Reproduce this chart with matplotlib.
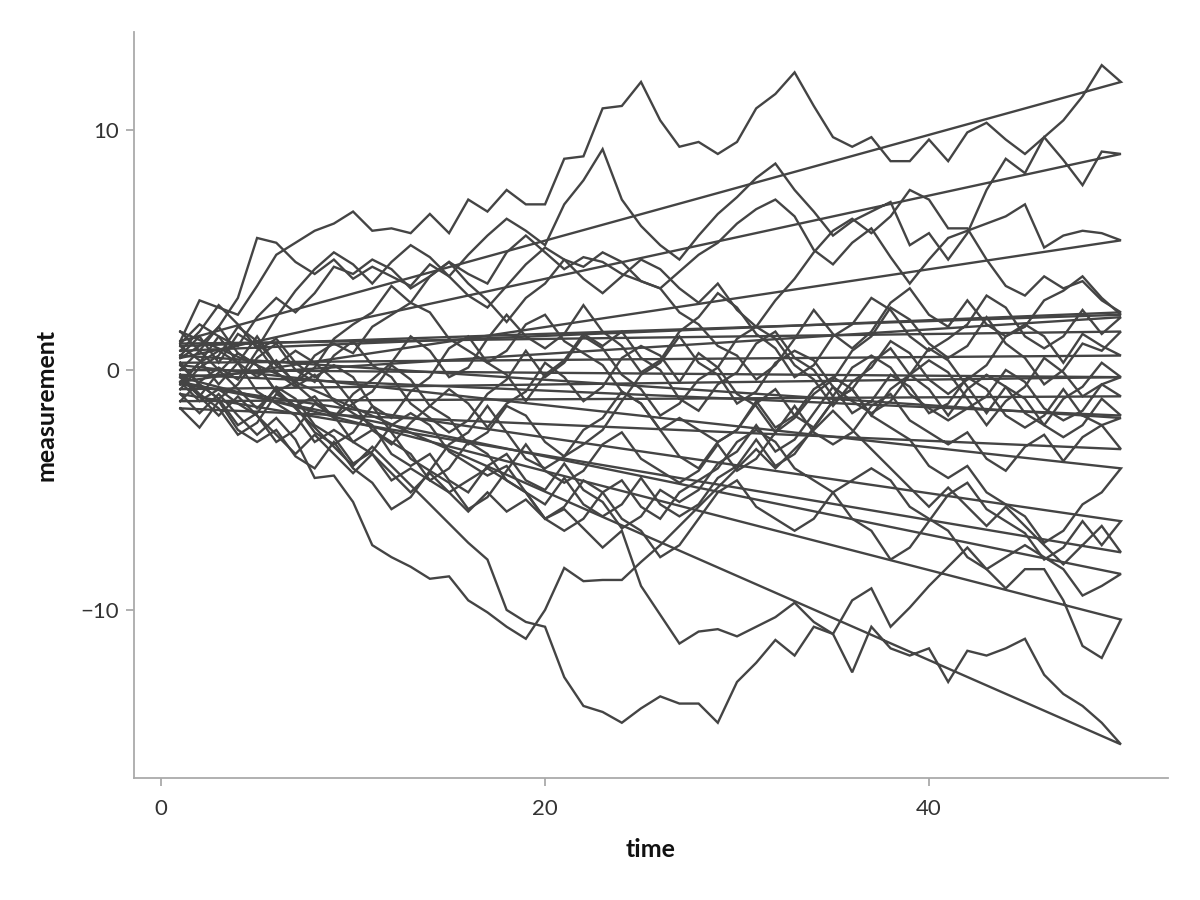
import numpy as np
import matplotlib.pyplot as plt

plt.rcParams['font.family'] = ['Lato', 'DejaVu Sans']

time = np.arange(1, 51)

# one random walk per run (t = 1..50)
s01 = [1.2, 2.9, 2.6, 2.3, 3.5, 4.8, 5.3, 5.8, 6.1, 6.6, 5.8, 5.9, 5.7, 6.5, 5.7, 7.1, 6.6, 7.5, 6.9, 6.9,
       8.8, 8.9, 10.9, 11.0, 12.0, 10.4, 9.3, 9.5, 9.0, 9.5, 10.9, 11.5, 12.4, 11.0, 9.7, 9.3, 9.7, 8.7, 8.7, 9.6,
       8.7, 9.9, 10.3, 9.6, 9.0, 9.7, 10.4, 11.4, 12.7, 12.0]
s02 = [0.5, 1.0, 1.8, 3.0, 5.5, 5.3, 4.5, 4.0, 4.6, 3.8, 4.3, 3.9, 3.5, 4.4, 3.9, 4.8, 5.6, 6.3, 5.8, 5.2,
       6.9, 7.9, 9.2, 7.1, 6.0, 5.2, 4.6, 5.6, 6.5, 7.2, 8.0, 8.6, 7.5, 6.6, 5.6, 6.2, 6.6, 7.0, 5.2, 5.7,
       4.6, 5.7, 7.5, 8.8, 8.2, 9.7, 8.75, 7.7, 9.1, 9.0]
s03 = [-0.5, 0.3, 1.4, 1.0, 2.2, 3.0, 2.4, 3.2, 4.3, 4.0, 4.6, 4.2, 3.4, 3.9, 4.5, 4.0, 3.6, 4.9, 5.6, 4.9,
       4.2, 4.7, 4.5, 4.0, 3.7, 3.4, 4.1, 4.8, 5.3, 6.1, 6.7, 7.1, 6.4, 5.0, 4.4, 5.3, 5.9, 4.7, 3.6, 4.6,
       5.5, 5.8, 6.1, 6.4, 6.9, 5.1, 5.6, 5.8, 5.7, 5.4]
s04 = [0.8, 1.6, 2.7, 1.9, 0.9, 2.2, 3.3, 4.2, 4.9, 4.4, 3.6, 4.5, 5.2, 4.7, 3.9, 3.1, 2.6, 3.5, 4.4, 5.1,
       4.6, 3.8, 3.2, 3.9, 4.6, 4.2, 3.4, 2.8, 3.6, 2.5, 1.8, 2.9, 3.8, 4.9, 5.8, 6.3, 5.7, 6.4, 7.5, 7.1,
       5.9, 5.9, 4.6, 3.5, 3.1, 3.9, 3.4, 3.7, 2.9, 2.4]
s05 = [1.0, 0.4, -0.6, 0.3, 1.4, 0.2, -0.5, 0.1, 1.3, 1.9, 2.4, 3.5, 2.8, 3.9, 4.5, 3.6, 2.9, 2.0, 3.0, 3.6,
       4.6, 4.3, 4.9, 4.5, 3.7, 3.4, 2.4, 1.9, 1.0, 0.6, -0.4, 0.2, 1.3, 2.5, 1.5, 0.9, 1.6, 2.8, 3.4, 2.3,
       1.8, 2.9, 1.9, 1.4, 1.8, 2.9, 3.3, 3.9, 3.0, 2.3]
s06 = [-0.3, -1.1, -0.1, 0.7, 0.2, -0.9, -1.5, -1.1, -2.0, -1.0, -0.4, 0.3, 1.4, 0.8, -0.3, 0.1, 1.3, 2.3, 1.4, 0.9,
       1.5, 2.7, 1.6, 1.0, -0.1, 0.4, 1.6, 2.2, 3.2, 2.6, 1.5, 0.9, -0.3, 0.2, 1.4, 1.9, 3.0, 2.5, 1.4, 0.8,
       1.3, 1.9, 3.1, 2.6, 1.4, 0.9, 1.4, 2.5, 1.5, 2.2]
s07 = [1.1, 1.9, 1.4, 0.3, -0.3, 0.4, -0.6, -1.3, -2.0, -1.4, -2.5, -3.1, -2.2, -1.5, -0.8, -1.4, -2.4, -1.4, -0.9, 0.3,
       -0.3, -1.3, -0.7, 0.5, 1.0, 0.6, -0.5, 0.7, 0.1, -1.0, -1.5, -2.6, -2.0, -1.0, -0.4, 0.8, 1.4, 2.6, 2.1, 1.1,
       0.5, 1.0, 2.2, 1.1, 0.5, -0.6, 0.0, 1.1, 0.8, 1.6]
s08 = [0.3, -0.6, -1.2, -0.6, 0.5, 1.1, 0.0, -0.5, 0.6, 1.2, 0.2, -0.3, -1.4, -2.0, -2.6, -2.1, -1.0, -0.4, 0.8, -0.3,
       0.3, 1.4, 0.9, -0.2, -0.8, -1.9, -1.4, -0.4, 0.1, 1.3, 1.8, 1.3, 0.2, -0.4, -1.5, -0.5, 0.1, 1.2, 0.7, -0.4,
       -1.0, -0.4, 0.2, 1.4, 1.9, 1.4, 0.3, 1.5, 1.0, 0.6]
s09 = [-0.8, 0.1, 0.6, 1.8, 1.2, 0.2, 0.8, 0.3, -0.4, -1.4, -0.9, 0.2, -0.4, -1.5, -2.0, -3.1, -2.6, -1.5, -1.9, -3.0,
       -3.6, -3.1, -2.5, -1.3, -0.2, 0.3, 1.4, 0.3, -0.2, -1.4, -0.9, 0.3, 0.8, 0.4, -0.7, -1.3, -1.8, -1.3, -0.2, 0.4,
       -0.1, -1.2, -2.3, -1.3, -0.7, 0.5, -0.1, -1.1, -0.6, -0.3]
s10 = [0.0, 0.8, 1.8, 0.7, 0.2, -0.9, -0.5, 0.6, 1.1, 0.7, 1.8, 2.3, 2.8, 2.4, 1.3, 0.8, 0.3, 0.8, 1.9, 2.3,
       1.2, 0.7, 0.2, -0.9, -1.4, -2.5, -2.0, -2.5, -3.0, -2.5, -1.4, -0.8, -1.9, -2.4, -1.3, -0.8, 0.3, 0.9, -0.2, -0.8,
       -1.9, -0.8, -0.2, -0.7, -1.8, -2.3, -1.2, -0.7, 0.3, -0.3]
s11 = [-1.3, -0.5, 0.1, -0.4, 0.8, 1.3, 0.3, -0.3, 0.2, -0.3, -1.5, -2.0, -0.9, -0.3, 0.9, 1.4, 0.3, -0.2, -1.3, -0.2,
       0.4, 1.5, 1.0, 1.6, 0.5, 0.0, -1.2, -1.7, -0.6, -0.1, 1.1, 1.6, 0.5, 0.0, -1.1, 0.1, 0.6, 0.1, -1.0, -1.6,
       -2.1, -1.6, -1.1, 0.0, -0.5, -1.6, -2.1, -1.7, -0.6, -1.1]
s12 = [-0.2, -1.0, -1.6, -2.7, -2.2, -1.0, -1.5, -2.6, -3.1, -2.6, -1.5, -2.6, -3.7, -4.2, -3.1, -2.6, -1.5, -2.6, -3.7, -4.1,
       -3.6, -2.5, -2.0, -0.9, -1.4, -2.5, -3.6, -4.1, -3.0, -2.5, -1.3, -2.4, -1.9, -0.8, -0.3, -0.8, -1.9, -0.8, -0.2, 0.9,
       0.4, -0.7, -1.8, -0.7, -1.2, -2.3, -2.8, -2.3, -1.2, -1.9]
s13 = [0.6, 1.4, 0.3, 1.5, 1.0, -0.1, -0.7, -0.2, -1.3, -1.8, -2.3, -3.5, -4.0, -3.5, -4.6, -5.1, -4.0, -3.5, -4.6, -5.0,
       -3.9, -5.0, -5.5, -6.6, -6.1, -5.0, -5.5, -5.0, -3.9, -3.4, -2.3, -3.4, -2.9, -1.8, -0.7, -1.8, -1.3, -0.2, -0.7, -1.8,
       -1.4, -0.3, -0.8, -1.9, -2.4, -1.9, -0.8, -1.9, -2.3, -2.0]
s14 = [-1.6, -2.4, -1.3, -2.5, -3.0, -2.5, -3.6, -4.1, -3.0, -4.1, -4.7, -5.8, -5.3, -4.2, -4.7, -5.8, -5.3, -4.2, -3.1, -4.2,
       -4.7, -4.2, -3.1, -2.6, -3.7, -4.2, -4.7, -4.2, -3.1, -4.2, -3.7, -2.6, -1.5, -2.6, -3.1, -2.6, -1.5, -1.0, -2.1, -2.6,
       -3.1, -2.6, -3.7, -4.2, -3.2, -2.7, -3.8, -2.8, -2.3, -3.3]
s15 = [0.2, -0.6, -1.2, -2.3, -1.8, -0.7, -1.2, -2.3, -2.8, -3.9, -3.4, -2.3, -1.8, -2.3, -3.4, -3.9, -4.4, -4.0, -5.1, -5.6,
       -4.5, -5.6, -6.1, -5.6, -4.5, -5.6, -6.1, -5.6, -4.5, -4.0, -2.9, -4.0, -3.5, -2.4, -1.3, -0.8, -1.9, -2.4, -2.9, -4.0,
       -4.5, -4.0, -5.1, -5.6, -6.1, -7.2, -6.7, -5.6, -5.1, -4.1]
s16 = [-0.6, 0.3, 0.8, 0.3, -0.9, -1.4, -1.9, -3.0, -2.5, -3.0, -3.5, -4.6, -4.1, -4.6, -5.1, -4.6, -4.1, -4.6, -5.1, -6.2,
       -6.7, -6.2, -5.1, -4.6, -5.7, -6.2, -5.1, -4.6, -4.1, -3.0, -2.5, -3.0, -4.1, -4.6, -5.1, -6.2, -6.7, -7.9, -7.4, -6.3,
       -5.2, -4.7, -5.8, -6.3, -6.8, -7.9, -7.4, -6.3, -7.3, -6.3]
s17 = [-1.0, -1.8, -1.0, -1.9, -2.7, -2.0, -2.9, -4.5, -4.4, -5.5, -7.3, -7.8, -8.2, -8.7, -8.6, -9.6, -10.1, -10.7, -11.2, -10.0,
       -8.25, -8.8, -8.75, -8.75, -8.0, -7.3, -6.5, -5.7, -4.9, -4.1, -3.3, -4.1, -3.3, -2.5, -1.7, -2.5, -3.3, -4.1, -4.9, -5.7,
       -4.9, -5.7, -6.5, -5.7, -6.5, -7.3, -8.1, -7.3, -6.5, -7.6]
s18 = [-0.5, -1.3, -0.8, -1.4, -1.9, -3.0, -2.5, -1.4, -1.9, -3.0, -2.5, -3.0, -3.5, -4.6, -4.1, -3.0, -3.5, -4.6, -5.1, -6.2,
       -5.7, -4.6, -5.1, -6.2, -6.7, -7.8, -7.3, -6.2, -5.1, -4.6, -5.7, -6.2, -6.7, -6.2, -5.1, -4.6, -4.1, -4.6, -5.7, -6.2,
       -6.7, -7.8, -8.3, -7.8, -7.3, -7.8, -8.3, -9.4, -9.0, -8.5]
s19 = [-0.3, -1.1, -1.9, -1.1, -1.9, -2.7, -3.5, -2.7, -3.5, -4.3, -3.5, -4.3, -5.1, -4.3, -5.1, -5.9, -5.1, -5.9, -5.4, -6.2,
       -5.8, -6.6, -7.4, -6.7, -9.0, -10.2, -11.4, -10.9, -10.8, -11.1, -10.7, -10.3, -9.7, -10.5, -11.0, -9.6, -9.1, -10.7, -9.9, -9.0,
       -8.2, -7.4, -8.3, -9.1, -8.3, -8.3, -9.6, -11.5, -12.0, -10.4]
s20 = [1.6, 0.8, 0.0, -0.8, -1.6, -0.8, -1.6, -2.4, -3.2, -4.0, -3.2, -4.0, -4.8, -5.6, -6.4, -7.2, -7.9, -10.0, -10.5, -10.7,
       -12.8, -14.0, -14.25, -14.7, -14.1, -13.6, -13.9, -13.9, -14.7, -13.0, -12.2, -11.25, -11.9, -10.7, -11.0, -12.6, -10.7, -11.6, -11.9, -11.6,
       -13.0, -11.7, -11.9, -11.6, -11.2, -12.7, -13.5, -14.0, -14.7, -15.6]

runs = [s01, s02, s03, s04, s05, s06, s07, s08, s09, s10,
        s11, s12, s13, s14, s15, s16, s17, s18, s19, s20]

fig = plt.figure(figsize=(12, 9), dpi=100)
ax = fig.add_axes([0.1117, 0.1356, 0.8616, 0.8288])

for r in runs:
    # closed path: last point joins back to the first
    xs = np.append(time, time[0])
    ys = np.append(r, r[0])
    ax.plot(xs, ys, color='#444444', lw=1.7, solid_joinstyle='miter')

ax.set_xlim(-1.41, 52.45)
ax.set_ylim(-17.0, 14.08)
ax.set_xticks([0, 20, 40])
ax.set_yticks([-10, 0, 10])

for s in ['top', 'right']:
    ax.spines[s].set_visible(False)
for s in ['left', 'bottom']:
    ax.spines[s].set_color('#aaaaaa')
    ax.spines[s].set_linewidth(1.3)
ax.tick_params(color='#aaaaaa', length=6, width=1.3, labelsize=16, pad=5)
ax.tick_params(axis='x', pad=9)
for lab in ax.get_xticklabels() + ax.get_yticklabels():
    lab.set_color('#333333')

ax.set_xlabel('time', fontsize=18, fontweight='bold', color='#111111', labelpad=14)
ax.set_ylabel('measurement', fontsize=18, fontweight='bold', color='#111111', labelpad=16)

fig.savefig('out.png', dpi=100)
